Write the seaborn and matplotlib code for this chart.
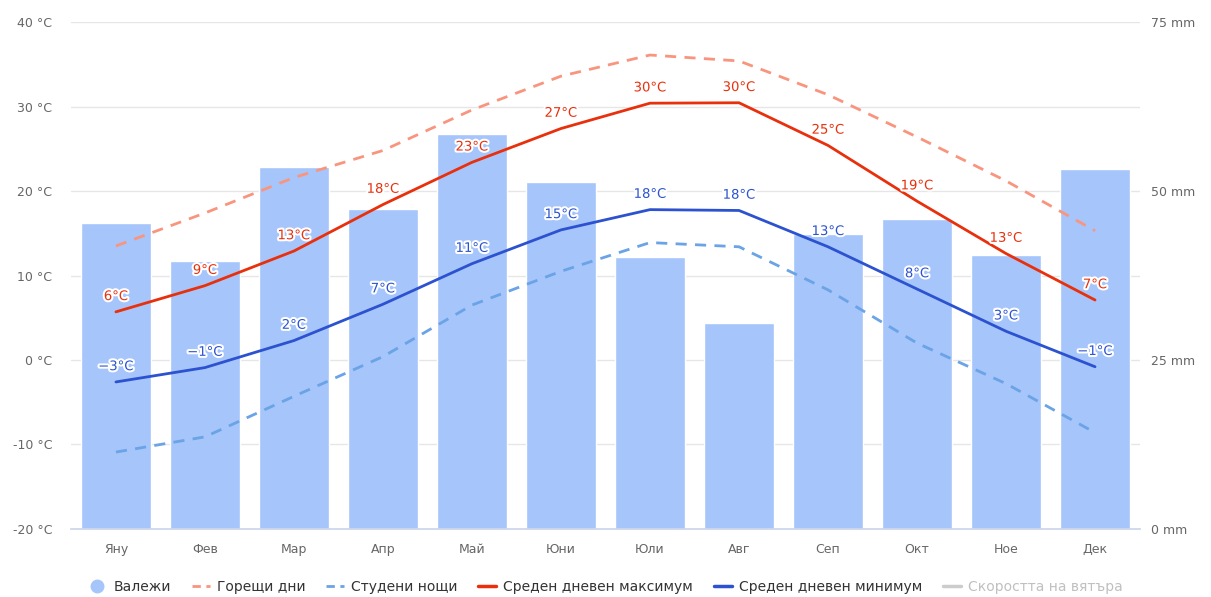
"""
Климатична диаграма: валежи (колони) и температури (линии) по месеци
"""

import numpy as np
import pandas as pd
import matplotlib.pyplot as plt
import seaborn as sns
from matplotlib.lines import Line2D
from matplotlib import patheffects as pe

sns.set_theme(style="white")
plt.rcParams["font.family"] = ["DejaVu Sans"]

months = ["Яну", "Фев", "Мар", "Апр", "Май", "Юни", "Юли", "Авг", "Сеп", "Окт", "Ное", "Дек"]
precip_mm = [45.3, 39.6, 53.6, 47.4, 58.5, 51.4, 40.3, 30.4, 43.7, 45.8, 40.5, 53.3]
hot_days = [13.5, 17.4, 21.6, 24.8, 29.6, 33.6, 36.1, 35.4, 31.4, 26.4, 21.2, 15.3]
cold_nights = [-10.9, -9.1, -4.3, 0.4, 6.5, 10.5, 13.9, 13.4, 8.3, 2.0, -2.8, -8.6]
mean_max = [5.7, 8.8, 12.9, 18.4, 23.4, 27.4, 30.4, 30.45, 25.4, 18.8, 12.6, 7.1]
mean_min = [-2.6, -0.9, 2.3, 6.6, 11.4, 15.4, 17.8, 17.7, 13.4, 8.4, 3.4, -0.8]

BAR_C = "#a6c5fb"
HOT_C = "#f9957f"
COLD_C = "#6aa3e6"
MAX_C = "#e8300c"
MIN_C = "#2c52d0"
TICK_C = "#666666"

df = pd.DataFrame({
    "month": months,
    "idx": np.arange(len(months)),
    "precip": precip_mm,
    "hot": hot_days,
    "cold": cold_nights,
    "tmax": mean_max,
    "tmin": mean_min,
})

fig = plt.figure(figsize=(12.11, 5.97), dpi=100)
ax = fig.add_axes([0.059, 0.114, 0.882, 0.849])

# колони за валежите (дясна ос, mm)
sns.barplot(data=df, x="month", y="precip", color=BAR_C, saturation=1,
            width=0.79, ax=ax, zorder=2)
ax.set_ylim(0, 75)
ax.set_xlim(-0.5, 11.5)
mm_ticks = np.arange(0, 75.1, 12.5)
ax.set_yticks(mm_ticks)
ax.set_yticklabels([f"{v:g} mm" if v % 25 == 0 else "" for v in mm_ticks])
ax.grid(axis="y", color="#e6e6e6", lw=1, zorder=0)
ax.set_axisbelow(True)
ax.set_xlabel("")
ax.set_ylabel("")
for s in ["left", "right", "top"]:
    ax.spines[s].set_visible(False)
ax.spines["bottom"].set_color("#ccd6eb")

# температури (лява ос, °C)
axt = ax.twinx()
ax.yaxis.tick_right()
ax.yaxis.set_label_position("right")
ax.tick_params(axis="both", length=0, colors=TICK_C, labelsize=9)
ax.tick_params(axis="x", pad=10)
ax.tick_params(axis="y", pad=8)

axt.set_ylim(-20, 40)
axt.yaxis.tick_left()
axt.set_yticks(np.arange(-20, 41, 10))
axt.set_yticklabels([f"{v} °C" for v in range(-20, 41, 10)])
axt.tick_params(axis="y", length=0, colors=TICK_C, labelsize=9, pad=14)
for s in axt.spines.values():
    s.set_visible(False)

sns.lineplot(data=df, x="idx", y="hot", ax=axt, color=HOT_C, lw=2)
sns.lineplot(data=df, x="idx", y="cold", ax=axt, color=COLD_C, lw=2)
sns.lineplot(data=df, x="idx", y="tmax", ax=axt, color=MAX_C, lw=2)
sns.lineplot(data=df, x="idx", y="tmin", ax=axt, color=MIN_C, lw=2)
axt.lines[0].set_dashes((4, 3))
axt.lines[1].set_dashes((4, 3))
axt.set_xlim(-0.5, 11.5)
axt.set_xlabel("")
axt.set_ylabel("")

halo = [pe.withStroke(linewidth=3, foreground="white")]
for series, col in [(mean_max, MAX_C), (mean_min, MIN_C)]:
    for i, v in enumerate(series):
        lab = f"{round(v):d}°C".replace("-", "−")
        axt.annotate(lab, (i, v), xytext=(0, 11), textcoords="offset points",
                     ha="center", va="center", fontsize=9.5, color=col,
                     path_effects=halo, zorder=5)

handles = [
    Line2D([], [], marker="o", ls="none", color=BAR_C, markersize=9),
    Line2D([], [], color=HOT_C, lw=2, ls=(0, (3, 2))),
    Line2D([], [], color=COLD_C, lw=2, ls=(0, (3, 2))),
    Line2D([], [], color=MAX_C, lw=2.5),
    Line2D([], [], color=MIN_C, lw=2.5),
    Line2D([], [], color="#cccccc", lw=2.5),
]
labels = ["Валежи", "Горещи дни", "Студени нощи", "Среден дневен максимум",
          "Среден дневен минимум", "Скоростта на вятъра"]
leg = fig.legend(handles, labels, loc="center", bbox_to_anchor=(0.5, 0.017),
                 ncol=6, frameon=False, fontsize=10, handlelength=1.3,
                 columnspacing=1.5, handletextpad=0.5)
for t in leg.get_texts():
    t.set_color("#333333")
leg.get_texts()[-1].set_color("#c0c0c0")

fig.savefig("out.png", dpi=100)
